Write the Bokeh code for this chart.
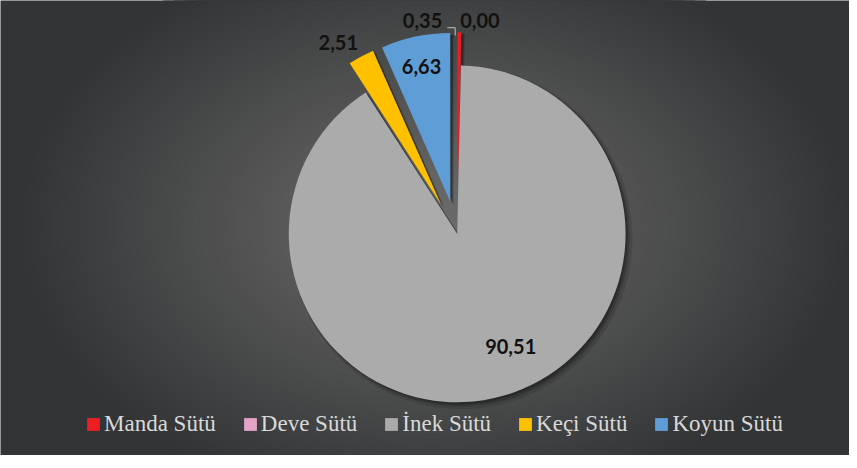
import numpy as np
from bokeh.plotting import figure
from bokeh.models import Range1d, Legend, LegendItem, ColumnDataSource
from bokeh.core.properties import value
from bokeh.embed import file_html
from bokeh.resources import INLINE

# ---- data ----
categories = ["Manda Sütü", "Deve Sütü", "İnek Sütü", "Keçi Sütü", "Koyun Sütü"]
values = [0.35, 0.00, 90.51, 2.51, 6.63]
labels = ["0,35", "0,00", "90,51", "2,51", "6,63"]

# ---- styles / layout ----
colors = ["#ee1c25", "#e2a3c7", "#ababab", "#ffc000", "#5f9dd6"]
explode = [34, 34, 0, 34, 34]
# label positions in reference-image pixels (layout only)
label_px = [(426, 21), (484, 21), (515, 356), (341, 43), (425, 68)]

W, H = 849, 455          # figure size in screen pixels
RW, RH = 857, 468        # reference coordinate frame


def fy(py):
    return RH - py


cx, cy, R = 461, fy(240), 170

vals = np.array(values, dtype=float)
total = vals.sum()
cum = np.concatenate([[0], np.cumsum(vals)])
th0 = 360 * cum[:-1] / total
th1 = 360 * cum[1:] / total
mid = np.radians((th0 + th1) / 2)
ex = np.array(explode, dtype=float)
xs = cx + ex * np.sin(mid)
ys = cy + ex * np.cos(mid)
start = np.radians(90 - th0)
end = np.radians(90 - th1)

nz = vals > 0
src = ColumnDataSource(dict(x=xs[nz], y=ys[nz], start=start[nz], end=end[nz],
                            color=[c for c, k in zip(colors, nz) if k]))

p = figure(width=W, height=H, x_range=Range1d(0, RW), y_range=Range1d(0, RH),
           output_backend="svg", toolbar_location=None, min_border=0,
           x_axis_location=None, y_axis_location=None,
           background_fill_color="#333435", border_fill_color="#333435",
           outline_line_color=None)
p.grid.visible = False

# radial background gradient
gx, gy = 438, fy(231)
A, B = 430, 300
c_in = np.array([0x6e, 0x6e, 0x6e])
c_out = np.array([0x33, 0x34, 0x35])
ts = np.linspace(1.0, 0.02, 60)
gcols = []
for t in ts:
    c = (c_in + (c_out - c_in) * t).astype(int)
    gcols.append("#%02x%02x%02x" % tuple(c))
p.ellipse(x=[gx] * len(ts), y=[gy] * len(ts), width=list(2 * A * ts),
          height=list(2 * B * ts), fill_color=gcols, line_color=None)

# shadows
for off, r_add, alpha in [(4, 3, 0.12), (3, 1, 0.18), (2, 0, 0.22)]:
    p.wedge(x=xs[nz] + off, y=ys[nz] - off, radius=R + r_add,
            start_angle=start[nz], end_angle=end[nz], direction="clock",
            fill_color="black", fill_alpha=alpha, line_color=None)

p.wedge(x="x", y="y", radius=R, start_angle="start", end_angle="end",
        direction="clock", fill_color="color", line_color=None, source=src)

# legend proxy (not visible on the canvas)
lsrc = ColumnDataSource(dict(x=[-100] * 5, y=[-100] * 5, color=colors))
lr = p.rect(x="x", y="y", width=1, height=1, fill_color="color",
            line_color=None, source=lsrc)

# leader line
p.line(x=[451, 459, 459], y=[fy(28), fy(28), fy(36)],
       line_color="#bfbfbf", line_width=1)

# data labels
p.text(x=[a for a, b in label_px], y=[fy(b) for a, b in label_px],
       text=labels, text_font=value("Lato"), text_font_style="bold",
       text_font_size="20px", text_color="#111111", text_align="center",
       text_baseline="middle")

items = [LegendItem(label=c, renderers=[lr], index=i)
         for i, c in enumerate(categories)]
legend = Legend(items=items, orientation="horizontal", location=(85, 18),
                glyph_width=16, glyph_height=16, label_standoff=3, spacing=26,
                padding=0, margin=0,
                label_text_font="serif",
                label_text_font_size="23px", label_text_color="#d9d9d9",
                background_fill_alpha=0, border_line_color=None)
p.add_layout(legend, "center")

open("out.html", "w").write(file_html(p, INLINE))
